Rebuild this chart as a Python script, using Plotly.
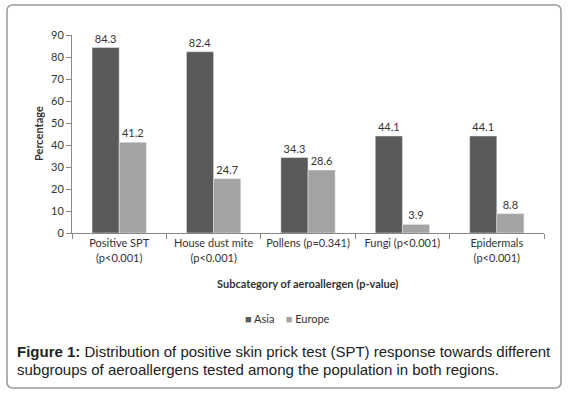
import plotly.graph_objects as go

categories = ["Positive SPT<br>(p<0.001)", "House dust mite<br>(p<0.001)",
              "Pollens (p=0.341)", "Fungi (p<0.001)", "Epidermals<br>(p<0.001)"]
asia = [84.3, 82.4, 34.3, 44.1, 44.1]
europe = [41.2, 24.7, 28.6, 3.9, 8.8]
y_ticks = [0, 10, 20, 30, 40, 50, 60, 70, 80, 90]
asia_color = "#5a5a5a"
europe_color = "#a3a3a3"

W, H = 568, 396
L, R, T, B = 72, 24, 35, 163
PW, PH = W - L - R, H - T - B

def px(x):
    return (x - L) / PW

def py(y):
    return (H - B - y) / PH

font_fam = "Lato, 'Open Sans', sans-serif"

fig = go.Figure()
fig.add_trace(go.Bar(name="Asia", x=categories, y=asia, marker_color=asia_color,
                     text=[f"{v:.1f}" for v in asia], textposition="outside",
                     textfont=dict(size=11, color="#333333", family=font_fam),
                     cliponaxis=False))
fig.add_trace(go.Bar(name="Europe", x=categories, y=europe, marker_color=europe_color,
                     text=[f"{v:.1f}" for v in europe], textposition="outside",
                     textfont=dict(size=11, color="#333333", family=font_fam),
                     cliponaxis=False))

fig.update_layout(
    width=W, height=H,
    margin=dict(l=L, r=R, t=T, b=B),
    paper_bgcolor="white", plot_bgcolor="white",
    barmode="group", bargap=0.425, bargroupgap=0,
    font=dict(family=font_fam, size=11, color="#333333"),
    showlegend=False,
    xaxis=dict(showline=True, linecolor="#888888", linewidth=1, ticks="outside",
               tickson="boundaries", ticklen=5, tickcolor="#888888",
               tickfont=dict(size=11, color="#333333"), showgrid=False),
    yaxis=dict(range=[0, 90], tickvals=y_ticks, showline=True, linecolor="#888888",
               linewidth=1, ticks="outside", ticklen=5, tickcolor="#888888",
               tickfont=dict(size=11, color="#333333"), showgrid=False, zeroline=False),
)

# legend (compact, as in the reference)
fig.add_annotation(
    text=(f'<span style="color:{asia_color}">■</span> Asia'
          f'&nbsp;&nbsp;&nbsp;&nbsp;<span style="color:{europe_color}">■</span> Europe'),
    xref="paper", yref="paper", x=px(287), y=py(318), xanchor="center", yanchor="middle",
    showarrow=False, font=dict(size=11, color="#333333"))

# axis titles
fig.add_annotation(text="<b>Subcategory of aeroallergen (p-value)</b>", xref="paper", yref="paper",
                   x=px(307), y=py(283), xanchor="center", yanchor="middle", showarrow=False,
                   font=dict(size=11, color="#333333"))
fig.add_annotation(text="<b>Percentage</b>", xref="paper", yref="paper", textangle=-90,
                   x=px(38), y=py(134), xanchor="center", yanchor="middle", showarrow=False,
                   font=dict(size=11, color="#333333"))

# caption
cap_font = dict(family="'Liberation Sans', Arial, sans-serif", size=15, color="#222222")
fig.add_annotation(text="<b>Figure 1:</b> Distribution of positive skin prick test (SPT) response towards different",
                   xref="paper", yref="paper", x=px(15), y=py(351), xanchor="left", yanchor="middle",
                   showarrow=False, font=cap_font)
fig.add_annotation(text="subgroups of aeroallergens tested among the population in both regions.",
                   xref="paper", yref="paper", x=px(15), y=py(369), xanchor="left", yanchor="middle",
                   showarrow=False, font=cap_font)

# rounded border
x0, x1, y0, y1, r = px(7), px(561), py(388), py(5), 6
rx, ry = r / PW, r / PH
path = (f"M {x0+rx},{y1} L {x1-rx},{y1} Q {x1},{y1} {x1},{y1-ry} "
        f"L {x1},{y0+ry} Q {x1},{y0} {x1-rx},{y0} L {x0+rx},{y0} Q {x0},{y0} {x0},{y0+ry} "
        f"L {x0},{y1-ry} Q {x0},{y1} {x0+rx},{y1} Z")
fig.add_shape(type="path", path=path, xref="paper", yref="paper",
              line=dict(color="#999999", width=1.5), layer="below")

# remove the browser's default 8px body margin so the figure fills the window
fig.write_html("out.html", config={"displayModeBar": False},
               post_script="document.body.style.margin='0';document.body.style.overflow='hidden';")
